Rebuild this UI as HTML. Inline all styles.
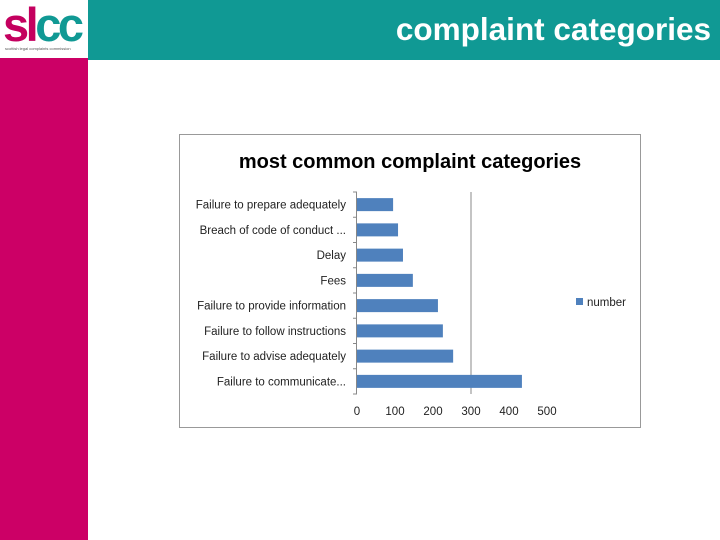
<!DOCTYPE html>
<html><head><meta charset="utf-8"><style>
body{margin:0;width:720px;height:540px;position:relative;background:#fff;overflow:hidden;font-family:"Liberation Sans",Arial,sans-serif}
.abs{position:absolute}
</style></head><body>
<div class="abs" style="left:88px;top:0;width:632px;height:60px;background:#109994"></div>
<div class="abs" style="left:340px;top:11px;width:371px;text-align:right;color:#fff;font-weight:bold;font-size:31.5px;line-height:36px;white-space:nowrap">complaint categories</div>
<div class="abs" style="left:0;top:0;width:88px;height:58px;background:#fff">
  <div class="abs" style="left:3px;top:0px;font-weight:bold;font-size:47px;letter-spacing:-3.5px;line-height:50px;color:#c4005f">sl<span style="color:#109994">cc</span></div>
  <div class="abs" style="left:5px;top:46px;font-size:4px;color:#555;white-space:nowrap">scottish legal complaints commission</div>
</div>
<div class="abs" style="left:0;top:58px;width:88px;height:482px;background:#cc0066"></div>
<div class="abs" style="left:179px;top:134px;width:462px;height:294px;border:1px solid #999;box-sizing:border-box"></div>
<svg class="abs" style="left:0;top:0" width="720" height="540" id="chart"></svg>
<script>
const categories=["Failure to prepare adequately","Breach of code of conduct  ...","Delay","Fees","Failure to provide information","Failure to follow instructions","Failure to advise adequately","Failure to communicate..."];
const values=[95,108,121,147,213,226,253,434];
const ticks=[0,100,200,300,400,500];
const tickLabels=["0","100","200","300","400","500"];
const NS="http://www.w3.org/2000/svg";
const svg=document.getElementById('chart');
const x0=357,pxPer=0.38,plotTop=192,rowH=25.25;
const xs=v=>x0+v*pxPer;
function mk(t,a){const e=document.createElementNS(NS,t);for(const k in a)e.setAttribute(k,a[k]);svg.appendChild(e);return e;}
let t=mk('text',{x:410,y:168,'text-anchor':'middle','font-size':'20','font-weight':'bold',fill:'#000'});


t.textContent='most common complaint categories';
let g=mk('line',{x1:xs(300),x2:xs(300),y1:plotTop,y2:plotTop+rowH*8,stroke:'#888','stroke-width':1});


let ax=mk('line',{x1:x0-0.5,x2:x0-0.5,y1:plotTop,y2:plotTop+rowH*8,stroke:'#888','stroke-width':1});


for(let i=0;i<=8;i++){let tk=mk('line',{x1:x0-4,x2:x0,y1:plotTop+i*rowH,y2:plotTop+i*rowH,stroke:'#888'});

}
categories.forEach((c,i)=>{
 const cy=plotTop+i*rowH+rowH/2;
 let r=mk('rect',{x:x0,y:cy-6.5,width:xs(values[i])-x0,height:13,fill:'#4f81bd'});
 
 
 let l=mk('text',{x:346,y:cy+4,'text-anchor':'end','font-size':'11.5',fill:'#222'});
 
 
 l.textContent=c;
});
ticks.forEach((v,i)=>{let l=mk('text',{x:xs(v),y:415,'text-anchor':'middle','font-size':'11.5',fill:'#222'});


l.textContent=tickLabels[i];});
let lg=mk('rect',{x:576,y:298,width:7,height:7,fill:'#4f81bd'});


let lt=mk('text',{x:587,y:306,'font-size':'11.5',fill:'#222'});


lt.textContent='number';
</script>
</body></html>
